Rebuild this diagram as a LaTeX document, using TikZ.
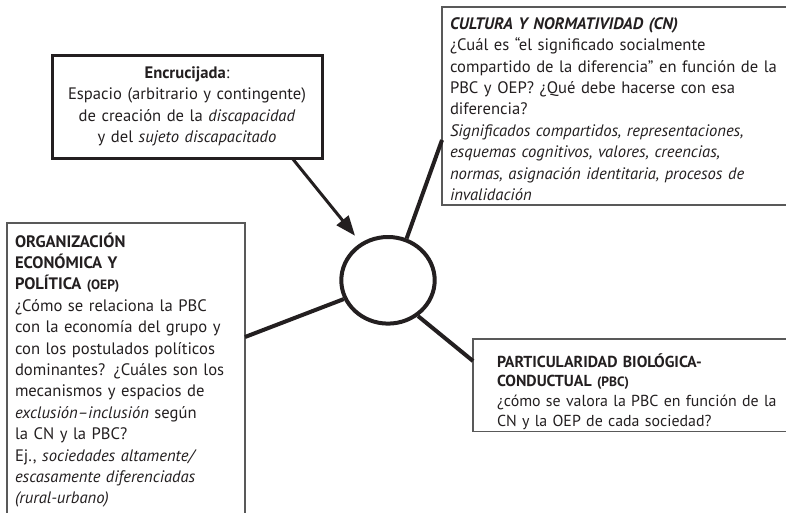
\documentclass[tikz,border=0pt]{standalone}
\usepackage{fontspec}
\setmainfont{PT Sans}
\usepackage{tikz}
\usetikzlibrary{calc,arrows.meta,shapes.geometric}
\definecolor{ink}{HTML}{231F20}
\def\drawspoke{\draw[color=ink, line width=4pt]}
\def\infobox{\node[draw=black!65, line width=1.2pt, outer sep=0pt, anchor=north west, align=left, text=ink]}
\def\abbr#1{{\fontsize{13.5}{21}\selectfont #1}}

\begin{document}
\begin{tikzpicture}[x=1pt,y=-1pt,inner sep=0pt,font=\fontsize{16.6}{21.4}\selectfont]
\useasboundingbox (0,0) rectangle (786,512);

% ---------- the crossroads in the middle
\node[ellipse, draw=ink, line width=4pt, minimum width=93.4pt, minimum height=86.6pt] (cross) at (388,280.3) {};

% ---------- Encrucijada, top left (the only thick frame)
\node[draw=ink, line width=3pt, outer sep=0pt, anchor=north west, text=ink, align=center,
  text width=256pt, inner xsep=7pt, minimum height=103pt] (enc) at (52,55)
  {\textbf{Encrucijada}:\\
   Espacio (arbitrario y contingente)\\
   de creación de la \textit{discapacidad}\\
   y del \textit{sujeto discapacitado}};

% ---------- the three boxes round it, all thin frames
\infobox[text width=340pt, inner xsep=8pt, minimum height=198pt] (cn) at (442,7)
  {\rule{0pt}{18pt}\textbf{\textit{CULTURA Y NORMATIVIDAD (CN)}}\\
   ¿Cuál es “el significado socialmente\\
   compartido de la diferencia” en función de la\\
   PBC y OEP? ¿Qué debe hacerse con esa\\
   diferencia?\\
   \textit{Significados compartidos, representaciones,}\\
   \textit{esquemas cognitivos, valores, creencias,}\\
   \textit{normas, asignación identitaria, procesos de}\\
   \textit{invalidación}};
\infobox[text width=222pt, inner xsep=8pt, minimum height=294pt] (oep) at (7,223)
  {\textbf{ORGANIZACIÓN}\\
   \textbf{ECONÓMICA Y}\\
   \textbf{POLÍTICA \abbr{(OEP)}}\\
   ¿Cómo se relaciona la PBC\\
   con la economía del grupo y\\
   con los postulados políticos\\
   dominantes? ¿Cuáles son los\\
   mecanismos y espacios de\\
   \textit{exclusión--inclusión} según\\
   la CN y la PBC?\\
   Ej., \textit{sociedades altamente/}\\
   \textit{escasamente diferenciadas}\\
   \textit{(rural-urbano)}};
\infobox[text width=290pt, inner xsep=24pt, inner ysep=1.5pt, font=\fontsize{15.9}{19.8}\selectfont] (pbc) at (473,339)
  {\rule{0pt}{26.5pt}\textbf{PARTICULARIDAD BIOLÓGICA-}\\
   \textbf{CONDUCTUAL \abbr{(PBC)}}\\
   ¿cómo se valora la PBC en función de la\\
   CN y la OEP de cada sociedad?};

% ---------- where the spokes meet the frames
\coordinate (cn_foot) at ($ (cn.north west) + (0,133) $);
\coordinate (oep_foot) at ($ (oep.north east) + (0,114) $);
\coordinate (pbc_foot) at ($ (pbc.north west) + (0,22) $);
\coordinate (enc_foot) at ($ (enc.south east) + (-30,0) $);

\drawspoke (cross.66) -- (cn_foot);
\drawspoke (cross.203) -- (oep_foot);
\drawspoke (cross.310) -- (pbc_foot);
\draw[color=ink, line width=3pt, -{Triangle[length=20pt,width=15pt]}, shorten >=9pt] (enc_foot) -- (cross.126);
\end{tikzpicture}
\end{document}
